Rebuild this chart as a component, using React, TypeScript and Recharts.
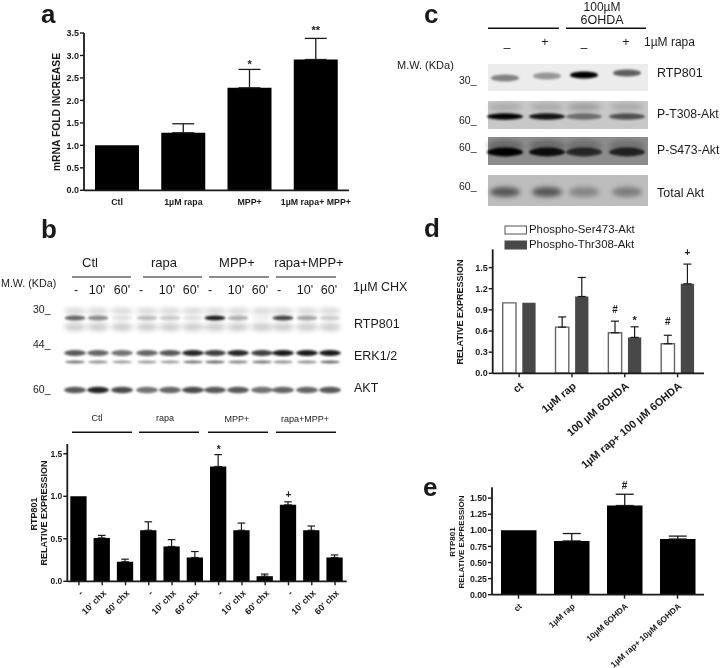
import React from "react";
import { BarChart, Bar, XAxis, YAxis, ErrorBar, ReferenceDot } from "recharts";

const FONT = "'Liberation Sans', Arial, sans-serif";
const INK = "#1a1a1a";

// ---------- values ----------
const aCategories = ["Ctl", "1µM rapa", "MPP+", "1µM rapa+ MPP+"];
const aValues = [1.0, 1.28, 2.28, 2.91];
const aErrors = [null, 0.2, 0.41, 0.47];
const aTicks = [0, 0.5, 1, 1.5, 2, 2.5, 3, 3.5];

const bIds = ["c0", "c10", "c60", "r0", "r10", "r60", "m0", "m10", "m60", "x0", "x10", "x60"];
const bTickLabels = ["-", "10' chx", "60' chx", "-", "10' chx", "60' chx", "-", "10' chx", "60' chx", "-", "10' chx", "60' chx"];
const bValues = [1.0, 0.51, 0.23, 0.6, 0.41, 0.28, 1.35, 0.6, 0.06, 0.9, 0.6, 0.28];
const bErrors = [null, 0.03, 0.03, 0.1, 0.08, 0.07, 0.14, 0.085, 0.025, 0.035, 0.05, 0.03];
const bTicks = [0, 0.5, 1, 1.5];

const dCategories = ["ct", "1µM rap", "100 µM 6OHDA", "1µM rap+ 100 µM 6OHDA"];
const dSerValues = [1.0, 0.655, 0.575, 0.42];
const dSerErrors = [null, 0.145, 0.165, 0.12];
const dThrValues = [1.0, 1.09, 0.51, 1.27];
const dThrErrors = [null, 0.27, 0.15, 0.28];
const dTicks = [0, 0.3, 0.6, 0.9, 1.2, 1.5];
const dSeriesNames = ["Phospho-Ser473-Akt", "Phospho-Thr308-Akt"];

const eCategories = ["ct", "1µM rap", "10µM 6OHDA", "1µM rap+ 10µM 6OHDA"];
const eValues = [1.0, 0.835, 1.385, 0.865];
const eErrors = [null, 0.115, 0.175, 0.045];
const eTicks = [0, 0.25, 0.5, 0.75, 1, 1.25, 1.5];

// blot band intensities, one per lane
const bRtp = [0.6, 0.45, 0.1, 0.25, 0.2, 0.1, 0.88, 0.3, 0.05, 0.72, 0.35, 0.18];
const bErkUpper = [0.65, 0.6, 0.55, 0.6, 0.65, 0.85, 0.75, 0.85, 0.75, 0.9, 0.9, 0.9];
const bErkLower = [0.55, 0.45, 0.4, 0.4, 0.4, 0.55, 0.6, 0.5, 0.55, 0.45, 0.45, 0.6];
const bAkt = [0.65, 0.85, 0.7, 0.55, 0.6, 0.7, 0.65, 0.65, 0.55, 0.6, 0.6, 0.65];
const cRtp = [0.45, 0.36, 1.0, 0.6];
const cT308 = [0.98, 0.9, 0.45, 0.6];
const cS473 = [1.0, 0.9, 0.7, 0.75];
const cTotal = [0.55, 0.55, 0.3, 0.35];

const table = (cats: string[], vals: number[], errs: (number | null)[]) =>
  cats.map((c, i) => ({ c, v: vals[i], e: errs[i] == null ? undefined : [0, errs[i]] }));

const aData = table(aCategories, aValues, aErrors);
const bData = table(bIds, bValues, bErrors);
const eData = table(eCategories, eValues, eErrors);
const dData = dCategories.map((c, i) => ({
  c,
  ser: dSerValues[i],
  serE: dSerErrors[i] == null ? undefined : [0, dSerErrors[i]],
  thr: dThrValues[i],
  thrE: dThrErrors[i] == null ? undefined : [0, dThrErrors[i]],
}));

// ---------- marks over error bars ----------
const Mark = (text: string, lift: number, dx: number, size: number) => (p: any) => (
  <text x={p.cx + dx} y={p.cy - lift} textAnchor="middle" fontFamily={FONT} fontWeight="bold" fontSize={size} fill={INK}>
    {text}
  </text>
);
const at = (x: string, y: number, text: string, lift: number, dx = 0, size = 11) => (
  <ReferenceDot key={x + text + dx} x={x} y={y} r={0} ifOverflow="visible" shape={Mark(text, lift, dx, size)} />
);

const yTick = (size: number) => ({ fontFamily: FONT, fontWeight: "bold", fontSize: size, fill: INK });
const axisLine = { stroke: INK, strokeWidth: 1.8 };
const tickLine = { stroke: INK, strokeWidth: 1.4 };
const Box = ({ l, t, children }: any) => <div style={{ position: "absolute", left: l, top: t }}>{children}</div>;
const noAnim = { isAnimationActive: false } as const;

// ---------- charts ----------
function PanelA() {
  return (
    <Box l={0} t={0}>
      <BarChart width={370} height={215} data={aData} margin={{ top: 33, left: 0, right: 21, bottom: 0 }} barSize={44}>
        <XAxis dataKey="c" height={24.7} interval={0} axisLine={axisLine} tickLine={false} tick={yTick(8.8)} tickMargin={2} />
        <YAxis width={84} domain={[0, 3.5]} ticks={aTicks} tickFormatter={(v: number) => v.toFixed(1)} axisLine={axisLine} tickLine={tickLine} tickSize={4} tickMargin={1} tick={yTick(9)} />
        <Bar dataKey="v" fill="#000" {...noAnim}>
          <ErrorBar dataKey="e" width={11} stroke={INK} strokeWidth={1.3} {...noAnim} />
        </Bar>
        {at("MPP+", 2.69, "*", 1.5)}
        {at("1µM rapa+ MPP+", 3.38, "**", 4.5)}
      </BarChart>
    </Box>
  );
}

function PanelB() {
  return (
    <Box l={0} t={425}>
      <BarChart width={380} height={243} data={bData} margin={{ top: 19, left: 0, right: 33.3, bottom: 0 }} barSize={16.3}>
        <XAxis dataKey="c" height={86.7} interval={0} axisLine={axisLine} tickLine={tickLine} tickSize={4} tickMargin={4}
          tickFormatter={(_: string, i: number) => bTickLabels[i]} tick={yTick(9)} angle={-45} textAnchor="end" />
        <YAxis width={67.3} domain={[0, 1.615]} ticks={bTicks} tickFormatter={(v: number) => v.toFixed(1)} axisLine={axisLine} tickLine={tickLine} tickSize={4} tickMargin={1} tick={yTick(8.5)} />
        <Bar dataKey="v" fill="#000" {...noAnim}>
          <ErrorBar dataKey="e" width={3.8} stroke={INK} strokeWidth={1.2} {...noAnim} />
        </Bar>
        {at("m0", 1.49, "*", 1.5, 0, 10)}
        {at("x0", 0.935, "+", 4, 0, 10)}
      </BarChart>
    </Box>
  );
}

function PanelD() {
  return (
    <Box l={420} t={215}>
      <BarChart width={300} height={265} data={dData} margin={{ top: 34.3, left: 0, right: 16, bottom: 0 }} barSize={13.3} barGap={6.3}>
        <XAxis dataKey="c" height={106.7} interval={0} axisLine={axisLine} tickLine={tickLine} tickSize={4} tickMargin={4} tick={yTick(10.8)} angle={-40} textAnchor="end" />
        <YAxis width={72.7} domain={[0, 1.76]} ticks={dTicks} tickFormatter={(v: number) => v.toFixed(1)} axisLine={axisLine} tickLine={tickLine} tickSize={4} tickMargin={1} tick={yTick(9)} />
        <Bar dataKey="ser" name={dSeriesNames[0]} fill="#fff" stroke="#666" strokeWidth={1.4} {...noAnim}>
          <ErrorBar dataKey="serE" width={4} stroke={INK} strokeWidth={1.2} {...noAnim} />
        </Bar>
        <Bar dataKey="thr" name={dSeriesNames[1]} fill="#484848" {...noAnim}>
          <ErrorBar dataKey="thrE" width={4} stroke={INK} strokeWidth={1.2} {...noAnim} />
        </Bar>
        {at(dCategories[2], 0.74, "#", 8.5, -9.8, 10)}
        {at(dCategories[2], 0.66, "*", 3, 9.8, 11)}
        {at(dCategories[3], 0.54, "#", 10, -9.8, 10)}
        {at(dCategories[3], 1.55, "+", 8, 9.8, 10)}
      </BarChart>
    </Box>
  );
}

function PanelE() {
  return (
    <Box l={420} t={472}>
      <BarChart width={300} height={196} data={eData} margin={{ top: 15.3, left: 0, right: 16, bottom: 0 }} barSize={35.5}>
        <XAxis dataKey="c" height={73.3} interval={0} axisLine={axisLine} tickLine={tickLine} tickSize={4} tickMargin={4} tick={yTick(8.3)} angle={-42} textAnchor="end" />
        <YAxis width={72} domain={[0, 1.668]} ticks={eTicks} tickFormatter={(v: number) => v.toFixed(2)} axisLine={axisLine} tickLine={tickLine} tickSize={4} tickMargin={1} tick={yTick(8.8)} />
        <Bar dataKey="v" fill="#000" {...noAnim}>
          <ErrorBar dataKey="e" width={9} stroke={INK} strokeWidth={1.3} {...noAnim} />
        </Bar>
        {at(eCategories[2], 1.56, "#", 5.7, 0, 10)}
      </BarChart>
    </Box>
  );
}

// ---------- blots and text overlay ----------
const T = ({ x, y, s = 12.5, a = "start", b = false, r, children }: any) => (
  <text x={x} y={y} fontFamily={FONT} fontSize={s} fontWeight={b ? "bold" : "normal"} textAnchor={a} fill={INK}
    transform={r != null ? `rotate(${r} ${x} ${y})` : undefined}>
    {children}
  </text>
);
const Rule = ({ x1, x2, y, c = INK, w = 1.4 }: any) => <line x1={x1} x2={x2} y1={y} y2={y} stroke={c} strokeWidth={w} />;
const Bands = ({ xs, vals, y, rx, ry, blur = "bl1" }: any) => (
  <g filter={`url(#${blur})`}>
    {vals.map((v: number, i: number) => (
      <ellipse key={i} cx={xs[i]} cy={Array.isArray(y) ? y[i] : y} rx={rx} ry={ry} fill={`rgba(0,0,0,${v})`} />
    ))}
  </g>
);

const bLanes = [75, 98, 122, 147, 170, 193, 215, 238, 262, 283, 307, 330];
const bLaneText = [76, 97, 122, 141, 167, 191, 210, 236, 260, 279, 305, 329];
const bLaneLabels = ["-", "10'", "60'", "-", "10'", "60'", "-", "10'", "60'", "-", "10'", "60'"];
const cLanes = [505, 547, 584, 627];
const faint = bRtp.map(() => 0.2);

function Overlay() {
  return (
    <svg width={720} height={668} style={{ position: "absolute", left: 0, top: 0 }}>
      <defs>
        <filter id="bl1" x="-30%" y="-100%" width="160%" height="300%"><feGaussianBlur stdDeviation="1.1" /></filter>
        <filter id="bl3" x="-30%" y="-100%" width="160%" height="300%"><feGaussianBlur stdDeviation="2.6" /></filter>
      </defs>

      {/* panel letters */}
      <T x={41} y={23} s={26} b>a</T>
      <T x={41} y={238} s={26} b>b</T>
      <T x={424} y={23} s={26} b>c</T>
      <T x={424} y={237} s={26} b>d</T>
      <T x={423} y={496} s={26} b>e</T>

      {/* panel a */}
      <T x={60} y={112} s={10.3} a="middle" b r={-90}>mRNA FOLD INCREASE</T>

      {/* panel b blot */}
      <T x={90} y={267} s={13} a="middle">Ctl</T>
      <T x={164} y={267} s={13} a="middle">rapa</T>
      <T x={237} y={267} s={13} a="middle">MPP+</T>
      <T x={309} y={267} s={13} a="middle">rapa+MPP+</T>
      <Rule x1={72} x2={131} y={277} c="#666" />
      <Rule x1={143} x2={202} y={277} c="#666" />
      <Rule x1={209} x2={269} y={277} c="#666" />
      <Rule x1={276} x2={336} y={277} c="#666" />
      <T x={1} y={287} s={10.7}>M.W. (KDa)</T>
      {bLaneLabels.map((l, i) => <T key={i} x={bLaneText[i]} y={294} a="middle">{l}</T>)}
      <T x={353} y={291}>1µM CHX</T>
      <T x={33} y={313} s={10.5}>30_</T>
      <T x={33} y={348} s={10.5}>44_</T>
      <T x={33} y={393} s={10.5}>60_</T>
      <T x={354} y={328}>RTP801</T>
      <T x={354} y={360}>ERK1/2</T>
      <T x={354} y={392}>AKT</T>
      <Bands xs={bLanes} vals={faint} y={327} rx={11} ry={4} blur="bl3" />
      <Bands xs={bLanes} vals={faint} y={311} rx={11} ry={2.5} blur="bl3" />
      <Bands xs={bLanes} vals={bRtp} y={318} rx={10.5} ry={2.4} />
      <Bands xs={bLanes} vals={bErkUpper} y={353} rx={11} ry={2.9} />
      <Bands xs={bLanes} vals={bErkLower} y={362} rx={10} ry={1.4} />
      <Bands xs={bLanes} vals={bAkt} y={390} rx={11} ry={3.2} />

      {/* panel b lower labels */}
      <T x={97} y={421} s={9} a="middle">Ctl</T>
      <T x={165} y={421} s={9} a="middle">rapa</T>
      <T x={237} y={422} s={9} a="middle">MPP+</T>
      <T x={305} y={422} s={9} a="middle">rapa+MPP+</T>
      <Rule x1={72} x2={132} y={432.3} c="#111" w={1.5} />
      <Rule x1={139} x2={199} y={432.3} c="#111" w={1.5} />
      <Rule x1={208} x2={268} y={432.3} c="#111" w={1.5} />
      <Rule x1={276} x2={336} y={432.3} c="#111" w={1.5} />
      <T x={37} y={514} s={9} a="middle" b r={-90}>RTP801</T>
      <T x={47} y={513} s={9} a="middle" b r={-90}>RELATIVE EXPRESSION</T>

      {/* panel c blot */}
      <T x={602} y={10.5} s={12} a="middle">100µM</T>
      <T x={602} y={24} a="middle">6OHDA</T>
      <Rule x1={488} x2={559} y={28.3} c="#111" />
      <Rule x1={566} x2={646} y={28.3} c="#111" />
      <T x={507} y={52} a="middle">–</T>
      <T x={545} y={46} a="middle">+</T>
      <T x={584} y={52} a="middle">–</T>
      <T x={626} y={46} a="middle">+</T>
      <T x={644} y={46} s={12}>1µM rapa</T>
      <T x={397} y={69} s={11}>M.W. (KDa)</T>
      <T x={459} y={84} s={10.5}>30_</T>
      <T x={459} y={124} s={10.5}>60_</T>
      <T x={459} y={151} s={10.5}>60_</T>
      <T x={459} y={190} s={10.5}>60_</T>
      <T x={657} y={77}>RTP801</T>
      <T x={657} y={118} s={12.2}>P-T308-Akt</T>
      <T x={657} y={154} s={12.2}>P-S473-Akt</T>
      <T x={657} y={197}>Total Akt</T>
      <rect x={488} y={64} width={160} height={27} fill="#ececec" />
      <rect x={488} y={101} width={160} height={28} fill="#c8c8c8" />
      <rect x={488} y={137} width={160} height={28} fill="#8c8c8c" />
      <rect x={488} y={175} width={160} height={31} fill="#bdbdbd" />
      <Bands xs={cLanes} vals={cRtp} y={[78, 76, 75, 73]} rx={14} ry={3.6} />
      <Bands xs={cLanes} vals={[0.15, 0.15, 0.2, 0.15]} y={107} rx={17} ry={4} blur="bl3" />
      <Bands xs={cLanes} vals={cT308} y={116.5} rx={18} ry={3.2} />
      <Bands xs={cLanes} vals={[0.25, 0.25, 0.2, 0.2]} y={146} rx={18} ry={6} blur="bl3" />
      <Bands xs={cLanes} vals={cS473} y={152} rx={18} ry={4.4} />
      <Bands xs={cLanes} vals={cTotal} y={192} rx={15} ry={5} blur="bl3" />

      {/* panel d */}
      <rect x={505} y={226} width={21.5} height={8} fill="#fff" stroke="#555" strokeWidth={1} />
      <rect x={505} y={241} width={21.5} height={8} fill="#484848" stroke="#484848" strokeWidth={1} />
      <T x={529} y={233} s={11.4}>{dSeriesNames[0]}</T>
      <T x={529} y={248} s={11.4}>{dSeriesNames[1]}</T>
      <T x={463} y={312} s={9} a="middle" b r={-90}>RELATIVE EXPRESSION</T>

      {/* panel e */}
      <T x={455} y={542} s={8} a="middle" b r={-90}>RTP801</T>
      <T x={464} y={542} s={8} a="middle" b r={-90}>RELATIVE EXPRESSION</T>
    </svg>
  );
}

export default function App() {
  return (
    <div style={{ position: "absolute", left: 0, top: 0, width: 720, height: 668, overflow: "hidden", background: "#fff", filter: "blur(0.4px)" }}>
      <Overlay />
      <PanelA />
      <PanelB />
      <PanelD />
      <PanelE />
    </div>
  );
}
